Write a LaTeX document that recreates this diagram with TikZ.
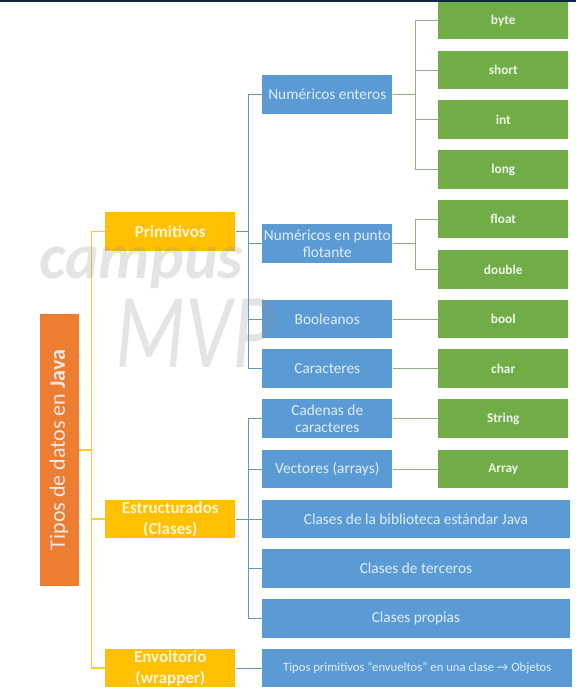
\documentclass[tikz,border=0pt]{standalone}
\usepackage{fontspec}
\setmainfont{Carlito}
\definecolor{rootfill}{HTML}{ED7D31}
\definecolor{kindfill}{HTML}{FFC000}
\definecolor{groupfill}{HTML}{5B9BD5}
\definecolor{leaffill}{HTML}{70AD47}
\definecolor{topbar}{HTML}{0F2A40}
\definecolor{marktext}{HTML}{8F9399}
\tikzset{
        box/.style = {rectangle, inner sep=0pt, align=center, text=white!92!black},
        root/.style = {box, fill=rootfill, minimum width=29.25pt, minimum height=204pt},
        kind/.style = {box, fill=kindfill, minimum width=97.5pt, minimum height=29pt,
            font=\fontsize{12.7}{15.5}\selectfont\bfseries, text=white!85!kindfill},
        group/.style = {box, fill=groupfill, minimum width=97.5pt, minimum height=29pt,
            font=\fontsize{11.5}{13}\selectfont, text=white!82!groupfill},
        wide/.style = {group, minimum width=230.5pt},
        leaf/.style = {box, fill=leaffill, minimum width=97.5pt, minimum height=29pt,
            font=\fontsize{10}{12}\selectfont\bfseries, text=white!88!leaffill},
        yellowline/.style = {draw=kindfill!85!white, line width=1pt},
        blueline/.style = {draw=groupfill!75!gray, line width=0.7pt},
        greenline/.style = {draw=leaffill!55!gray!80!white, line width=0.7pt},
        watermark/.style = {text=marktext, text opacity=0.25, inner sep=0pt},
    }

\begin{document}
\begin{tikzpicture}[x=0.75pt,y=0.75pt,yscale=-1,xscale=1]
\useasboundingbox (0,0) rectangle (576,699);

%Top edge
\fill [topbar] (0,0) rectangle (576,2.5);

%Root
\node (tipos) [root] at (59,450) {\rotatebox{90}{\fontsize{16.5}{18}\selectfont Tipos de datos en \textbf{Java}}};

%Kinds
\node (primitivos) [kind, anchor=north west] at (105,212) {Primitivos};
\node (estructurados) [kind, anchor=north west] at (105,499.5) {Estructurados\\(Clases)};
\node (envoltorio) [kind, anchor=north west] at (105,648.5) {Envoltorio\\(wrapper)};

%Groups
\node (enteros) [group, anchor=north west] at (262,75) {Numéricos enteros};
\node (flotante) [group, anchor=north west] at (262,224) {Numéricos en punto\\flotante};
\node (booleanos) [group, anchor=north west] at (262,299.5) {Booleanos};
\node (caracteres) [group, anchor=north west] at (262,349) {Caracteres};
\node (cadenas) [group, anchor=north west] at (262,399) {Cadenas de\\caracteres};
\node (vectores) [group, anchor=north west] at (262,449.5) {Vectores (arrays)};
\node (biblioteca) [wide, anchor=north west] at (262,499.5) {Clases de la biblioteca estándar Java};
\node (terceros) [wide, anchor=north west] at (262,549) {Clases de terceros};
\node (propias) [wide, anchor=north west] at (262,599) {Clases propias};
\node (envueltos) [wide, minimum width=232.5pt, anchor=north west, font=\fontsize{9.5}{11}\selectfont] at (262,648.5) {Tipos primitivos “envueltos” en una clase → Objetos};

%Leaves
\node (byte) [leaf, minimum height=27.75pt, anchor=north west] at (438,2) {byte};
\node (short) [leaf, anchor=north west] at (438,50.5) {short};
\node (int) [leaf, anchor=north west] at (438,100) {int};
\node (long) [leaf, anchor=north west] at (438,150) {long};
\node (float) [leaf, anchor=north west] at (438,199.5) {float};
\node (double) [leaf, anchor=north west] at (438,250) {double};
\node (bool) [leaf, anchor=north west] at (438,299.5) {bool};
\node (char) [leaf, anchor=north west] at (438,349) {char};
\node (string) [leaf, anchor=north west] at (438,399) {String};
\node (array) [leaf, anchor=north west] at (438,449.5) {Array};

%Lines from the root
\draw [yellowline] (tipos.east) -- ++(12.5,0) |- (primitivos.west);
\draw [yellowline] (tipos.east) -- ++(12.5,0) |- (estructurados.west);
\draw [yellowline] (tipos.east) -- ++(12.5,0) |- (envoltorio.west);

%Lines from the kinds
\draw [blueline] (primitivos.east) -- ++(13,0) |- (enteros.west);
\draw [blueline] (primitivos.east) -- ++(13,0) |- (flotante.west);
\draw [blueline] (primitivos.east) -- ++(13,0) |- (booleanos.west);
\draw [blueline] (primitivos.east) -- ++(13,0) |- (caracteres.west);
\draw [blueline] (estructurados.east) -- ++(13,0) |- (cadenas.west);
\draw [blueline] (estructurados.east) -- ++(13,0) |- (vectores.west);
\draw [blueline] (estructurados.east) -- (biblioteca.west);
\draw [blueline] (estructurados.east) -- ++(13,0) |- (terceros.west);
\draw [blueline] (estructurados.east) -- ++(13,0) |- (propias.west);
\draw [blueline] (envoltorio.east) -- (envueltos.west);

%Lines from the groups
\draw [greenline] (enteros.east) -- ++(23,0) |- (byte.west);
\draw [greenline] (enteros.east) -- ++(23,0) |- (short.west);
\draw [greenline] (enteros.east) -- ++(23,0) |- (int.west);
\draw [greenline] (enteros.east) -- ++(23,0) |- (long.west);
\draw [greenline] (flotante.east) -- ++(23,0) |- (float.west);
\draw [greenline] (flotante.east) -- ++(23,0) |- (double.west);
\draw [greenline] (booleanos.east) -- (bool.west);
\draw [greenline] (caracteres.east) -- (char.west);
\draw [greenline] (cadenas.east) -- (string.west);
\draw [greenline] (vectores.east) -- (array.west);

%Watermark
\node (campus) [watermark, font=\fontsize{48}{48}\selectfont\bfseries\itshape] at (141,268) {campus};
\node (mvp) [watermark, xscale=0.77, font=\fontsize{80}{80}\selectfont\itshape] at (195,333) {MVP};

\end{tikzpicture}
\end{document}
